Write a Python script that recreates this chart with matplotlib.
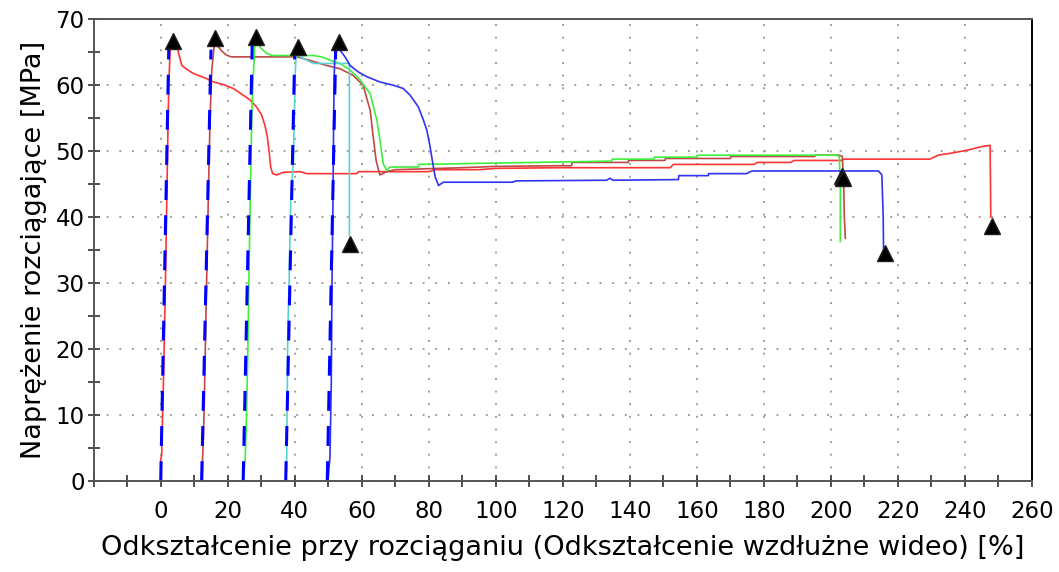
import numpy as np
import matplotlib
matplotlib.use('Agg')
import matplotlib.pyplot as plt
from matplotlib.ticker import MultipleLocator, FixedLocator

plt.rcParams['font.family'] = ['DejaVu Sans']

# proba 1 (czerwona)
x1 = [0, 0, 0.3, 0.5, 0.8, 1.1, 1.4, 1.8, 2.1, 2.4, 2.8, 4.0, 5.0, 5.5, 6.3, 7.8, 9.7, 11.7, 13.7,
      15.7, 18.7, 21.7, 24.6, 26.6, 28.6, 30.1, 31.1, 31.8, 32.4, 32.8, 33.4, 34.6, 36.6, 41.6, 43.6,
      58.5, 59.0, 80, 82, 95, 100, 119, 152, 153, 177, 178, 188, 189, 203, 204, 229.5, 232, 237,
      241, 245, 247.5, 247.7]
y1 = [0, 3.3, 4.0, 9, 15, 22, 30, 42.6, 52, 60, 65.3, 66.2, 65.6, 64.5, 63.0, 62.4, 61.8, 61.4, 61.0,
      60.5, 60.1, 59.5, 58.5, 57.8, 56.7, 55.5, 53.9, 52.2, 49.7, 47.6, 46.6, 46.4, 46.8, 46.9, 46.6,
      46.6, 46.9, 46.9, 47.2, 47.2, 47.4, 47.5, 47.5, 48.0, 48.0, 48.3, 48.3, 48.6, 48.6, 48.8, 48.8,
      49.4, 49.8, 50.2, 50.7, 50.9, 40.0]

# proba 2 (brazowa)
x2 = [12.4, 12.5, 12.7, 13.0, 13.3, 13.6, 14.0, 14.4, 14.8, 15.2, 16.0, 17.0, 18.0, 19.5, 21.0,
      40.6, 43.6, 49.5, 53.5, 57.4, 60.4, 62.5, 63.4, 64.3, 65.4, 67.4, 70, 90, 100, 119, 122.6,
      122.7, 139.5, 139.6, 150.5, 150.6, 170, 170.1, 195.2, 195.3, 202.4, 203.4, 203.8, 204.0, 204.3]
y2 = [0, 3.7, 6, 12, 20, 28, 38, 48, 56, 62, 66.3, 66.0, 65.3, 64.6, 64.3,
      64.3, 63.9, 63.0, 62.5, 61.5, 60.0, 56.2, 52.2, 48.5, 46.4, 46.9, 47.2, 47.5, 47.7, 47.8, 47.8,
      48.3, 48.3, 48.6, 48.6, 48.9, 48.9, 49.2, 49.2, 49.4, 49.4, 49.2, 45.0, 40.0, 36.8]

# proba 3 (zielona)
x3 = [24.6, 25.2, 25.6, 26.0, 26.3, 26.7, 27.2, 27.6, 28.1, 28.6, 29.6, 31.6, 33.6, 45.5, 48, 50.5,
      53.5, 56.5, 59.5, 62.5, 64.5, 65.4, 66.4, 67.4, 68.4, 76.8, 77.0, 100, 134.6, 134.7, 147.2,
      147.3, 160, 160.1, 201.7, 202.5, 202.8, 202.8]
y3 = [0, 3.4, 10, 20, 30, 42.6, 56.2, 61.3, 66.3, 66.6, 65.8, 64.8, 64.5, 64.5, 64.3, 63.8,
      63.3, 62.3, 60.8, 58.7, 54.7, 51.7, 48.1, 47.1, 47.6, 47.6, 48.0, 48.2, 48.5, 48.8, 48.8,
      49.1, 49.1, 49.4, 49.4, 49.2, 45.0, 36.3]

# proba 4 (turkusowa)
x4 = [37.3, 37.6, 37.9, 38.3, 38.8, 39.6, 39.9, 40.1, 40.4, 40.8, 41.6, 43.6, 45.5, 56.3, 56.3]
y4 = [0, 3.7, 22.4, 30, 42.6, 48.6, 56.2, 61.3, 64.8, 65.3, 64.3, 63.8, 63.3, 63.3, 37.3]

# proba 5 (niebieska)
x5 = [49.9, 50.5, 50.9, 51.1, 51.4, 51.6, 51.8, 52.0, 52.5, 53.5, 55, 56.5, 59, 61.5, 65.4, 69.4,
      72.4, 74.4, 76.9, 78.4, 79.4, 80.4, 81.2, 81.9, 82.9, 84.3, 105, 106, 133.1, 134, 135, 154.5,
      154.6, 163.4, 163.5, 174.9, 175.5, 176.5, 214.2, 215.2, 215.6, 215.7]
y5 = [0, 3.7, 15, 30, 42.6, 55, 62, 65.5, 66.2, 65.3, 64.3, 63.0, 62.0, 61.3, 60.5, 60.0,
      59.5, 58.5, 56.7, 54.7, 53.2, 50.6, 48.1, 46.1, 44.8, 45.3, 45.3, 45.5, 45.6, 45.9, 45.6, 45.7,
      46.3, 46.3, 46.6, 46.6, 46.8, 47.0, 47.0, 46.4, 40.0, 35.0]

# proste modulu (niebieskie przerywane)
mod_x = [[0, 2.4], [12.2, 15.0], [24.6, 27.3], [37.3, 40.0], [49.7, 52.2]]
mod_y = [[0, 65.6], [0, 65.4], [0, 66.3], [0, 65.3], [0, 65.3]]

# maksima i zerwania
tri_x = [3.8, 16.2, 28.4, 40.9, 53.3, 56.5, 203.3, 203.7, 216.1, 248.2]
tri_y = [66.7, 67.1, 67.3, 65.8, 66.5, 36.0, 46.3, 45.9, 34.6, 38.6]

fig = plt.figure(figsize=(10.59, 5.72), dpi=100)
ax = fig.add_axes([0.0885, 0.159, 0.886, 0.8073])

ax.plot(x1, y1, color='#ff3434', lw=1.2)
ax.plot(x2, y2, color='#c04848', lw=1.2)
ax.plot(x3, y3, color='#3cf03c', lw=1.2)
ax.plot(x4, y4, color='#5ad2d2', lw=1.2)
ax.plot(x5, y5, color='#3232f5', lw=1.2)
for mx, my in zip(mod_x, mod_y):
    ax.plot(mx, my, color='#0000ff', lw=2.2, linestyle=(0, (6.5, 5)))
ax.plot(tri_x, tri_y, '^', color='black', markersize=12, markeredgecolor='#202020', linestyle='none')

ax.set_xlim(-20, 260)
ax.set_ylim(0, 70)
ax.xaxis.set_major_locator(FixedLocator(range(0, 261, 20)))
ax.xaxis.set_minor_locator(MultipleLocator(10))
ax.yaxis.set_major_locator(MultipleLocator(10))
ax.yaxis.set_minor_locator(MultipleLocator(5))
ax.tick_params(which='both', direction='inout', length=9, width=1.1, color='#202020', labelsize=16.5)
ax.tick_params(axis='x', pad=9)
ax.tick_params(axis='y', pad=2)
ax.tick_params(axis='x', which='both', top=False)
ax.tick_params(axis='y', which='both', right=False)

ax.grid(True, which='major', linestyle=(0, (1, 5.5)), linewidth=1.4, color='#a0a090')

for s in ['top', 'bottom', 'left']:
    ax.spines[s].set_color('#555555')
    ax.spines[s].set_linewidth(1.4)
ax.spines['right'].set_color('black')
ax.spines['right'].set_linewidth(1.4)

ax.set_xlabel('Odkształcenie przy rozciąganiu (Odkształcenie wzdłużne wideo) [%]', fontsize=19.5, labelpad=9)
ax.set_ylabel('Naprężenie rozciągające [MPa]', fontsize=19.5, labelpad=6)

plt.savefig('out.png', dpi=100)
